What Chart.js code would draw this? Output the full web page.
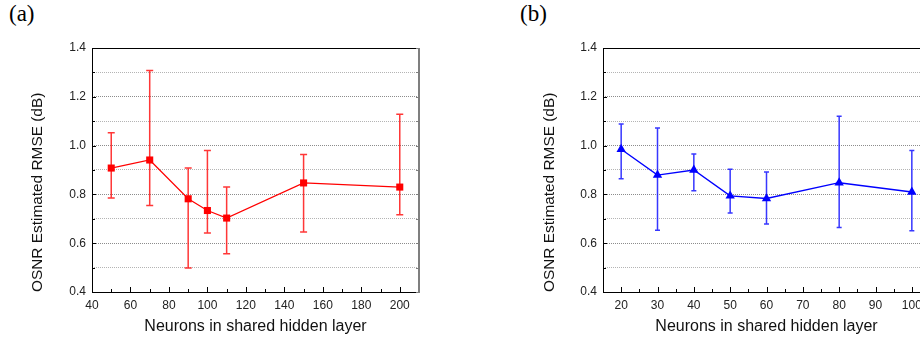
<!DOCTYPE html>
<html lang="en">

<head>
    <meta charset="UTF-8">
    <title>OSNR RMSE vs neurons</title>
    <script src="https://cdn.jsdelivr.net/npm/chart.js"></script>
    <style>
        * {
            margin: 0;
            padding: 0;
            box-sizing: border-box;
        }

        body {
            width: 920px;
            height: 338px;
            overflow: hidden;
            background: #fff;
            position: relative;
        }

        .panel {
            position: absolute;
            top: 0;
            height: 338px;
        }

        .tag {
            position: absolute;
            top: 2px;
            font-family: 'Liberation Serif', 'Times New Roman', serif;
            font-size: 23px;
            line-height: 1;
            color: #000;
        }
    </style>
</head>

<body>
    <div class="tag" style="left: 9px;">(a)</div>
    <div class="tag" style="left: 520px;">(b)</div>

    <div class="panel" style="left: 0; width: 460px;">
        <canvas id="chartA" width="460" height="338"></canvas>
    </div>
    <div class="panel" style="left: 460px; width: 560px;">
        <canvas id="chartB" width="560" height="338"></canvas>
    </div>

    <script>
        // panel (a)
        const neuronsA = [50, 70, 90, 100, 110, 150, 200];
        const rmseA = [0.908, 0.941, 0.782, 0.734, 0.703, 0.847, 0.830];
        const upperA = [1.053, 1.308, 0.908, 0.980, 0.830, 0.964, 1.128];
        const lowerA = [0.785, 0.754, 0.498, 0.642, 0.557, 0.646, 0.717];
        const xTicksA = [40, 60, 80, 100, 120, 140, 160, 180, 200];

        // panel (b)
        const neuronsB = [20, 30, 40, 50, 60, 80, 100];
        const rmseB = [0.985, 0.879, 0.900, 0.794, 0.783, 0.848, 0.810];
        const upperB = [1.089, 1.072, 0.966, 0.903, 0.892, 1.120, 0.980];
        const lowerB = [0.864, 0.653, 0.815, 0.724, 0.679, 0.664, 0.651];
        const xTicksB = [20, 30, 40, 50, 60, 70, 80, 90, 100];

        // shared y axis: grid every 0.1, labels every 0.2
        const yTicks = [0.4, 0.5, 0.6, 0.7, 0.8, 0.9, 1.0, 1.1, 1.2, 1.3, 1.4];

        const FONT = "'Liberation Sans', Arial, sans-serif";
        const isMajorY = v => Math.round(v * 10) % 2 === 0;

        // error bars, drawn under the markers
        const errorBars = {
            id: 'errorBars',
            beforeDatasetsDraw(chart) {
                const { ctx, scales: { x, y } } = chart;
                chart.data.datasets.forEach(ds => {
                    ctx.save();
                    ctx.strokeStyle = ds.errColor;
                    ctx.lineWidth = 1.5;
                    ds.data.forEach((p, i) => {
                        const px = x.getPixelForValue(p.x);
                        const yu = y.getPixelForValue(ds.errUpper[i]);
                        const yl = y.getPixelForValue(ds.errLower[i]);
                        const c = ds.capHalf;
                        ctx.beginPath();
                        ctx.moveTo(px, yu);
                        ctx.lineTo(px, yl);
                        ctx.moveTo(px - c, yu);
                        ctx.lineTo(px + c, yu);
                        ctx.moveTo(px - c, yl);
                        ctx.lineTo(px + c, yl);
                        ctx.stroke();
                    });
                    ctx.restore();
                });
            }
        };

        // frame with inward ticks, like the original plotting tool
        const frame = {
            id: 'frame',
            afterDatasetsDraw(chart) {
                const { ctx, chartArea: a, scales: { x, y } } = chart;
                ctx.save();
                ctx.lineWidth = 1;
                ctx.strokeStyle = '#000';
                ctx.beginPath();
                ctx.moveTo(a.left + 0.5, a.top + 0.5);
                ctx.lineTo(a.right, a.top + 0.5);
                ctx.moveTo(a.left + 0.5, a.top);
                ctx.lineTo(a.left + 0.5, a.bottom + 0.5);
                ctx.lineTo(a.right, a.bottom + 0.5);
                ctx.stroke();

                // ticks along the bottom
                const xt = x.ticks.map(t => t.value);
                ctx.beginPath();
                xt.forEach((v, i) => {
                    const px = Math.round(x.getPixelForValue(v)) + 0.5;
                    ctx.moveTo(px, a.bottom);
                    ctx.lineTo(px, a.bottom - 5);
                    if (i < xt.length - 1) {
                        const mx = Math.round(x.getPixelForValue((v + xt[i + 1]) / 2)) + 0.5;
                        ctx.moveTo(mx, a.bottom);
                        ctx.lineTo(mx, a.bottom - 3);
                    }
                });
                // ticks along the left
                yTicks.forEach(v => {
                    const py = Math.round(y.getPixelForValue(v)) + 0.5;
                    const len = isMajorY(v) ? 4 : 3;
                    ctx.moveTo(a.left, py);
                    ctx.lineTo(a.left + len, py);
                });
                ctx.stroke();

                // right side: grey bar
                ctx.strokeStyle = '#7f7f7f';
                ctx.lineWidth = 2;
                ctx.beginPath();
                ctx.moveTo(a.right, a.top);
                ctx.lineTo(a.right, a.bottom + 1);
                ctx.stroke();
                ctx.lineWidth = 1;
                ctx.beginPath();
                yTicks.forEach(v => {
                    const py = Math.round(y.getPixelForValue(v)) + 0.5;
                    ctx.moveTo(a.right, py);
                    ctx.lineTo(a.right - 3, py);
                });
                ctx.stroke();
                ctx.restore();
            }
        };

        function makeChart(id, xs, ys, up, lo, xTicks, xMin, xMax, look, pad, yWidth) {
            const ctx = document.getElementById(id).getContext('2d');
            return new Chart(ctx, {
                type: 'scatter',
                data: {
                    datasets: [{
                        data: xs.map((v, i) => ({ x: v, y: ys[i] })),
                        showLine: true,
                        borderColor: look.color,
                        borderWidth: look.lineWidth,
                        backgroundColor: look.color,
                        pointStyle: look.pointStyle,
                        pointRadius: look.radius,
                        pointHoverRadius: look.radius,
                        pointBorderColor: look.color,
                        pointBorderWidth: 0,
                        errUpper: up,
                        errLower: lo,
                        errColor: look.errColor,
                        capHalf: look.capHalf
                    }]
                },
                options: {
                    responsive: false,
                    animation: false,
                    devicePixelRatio: 1,
                    layout: { padding: pad },
                    plugins: {
                        legend: { display: false },
                        tooltip: { enabled: false }
                    },
                    scales: {
                        x: {
                            type: 'linear',
                            min: xMin,
                            max: xMax,
                            afterBuildTicks: s => { s.ticks = xTicks.map(v => ({ value: v })); },
                            afterFit: s => { s.height = 46; },
                            grid: { display: false },
                            border: { display: false },
                            ticks: {
                                autoSkip: false,
                                maxRotation: 0,
                                padding: -2,
                                color: '#222',
                                font: { family: FONT, size: 12 }
                            },
                            title: {
                                display: true,
                                text: 'Neurons in shared hidden layer',
                                color: '#111',
                                padding: { top: 0, bottom: 2 },
                                font: { family: FONT, size: 16 }
                            }
                        },
                        y: {
                            type: 'linear',
                            min: 0.4,
                            max: 1.4,
                            afterBuildTicks: s => { s.ticks = yTicks.map(v => ({ value: v })); },
                            afterFit: s => { s.width = yWidth; },
                            grid: {
                                drawTicks: false,
                                lineWidth: 1,
                                color: c => {
                                    const v = c.tick ? c.tick.value : 0;
                                    if (v <= 0.4 || v >= 1.4) return 'rgba(0,0,0,0)';
                                    return isMajorY(v) ? '#8c8c8c' : '#b4b4b4';
                                }
                            },
                            border: { display: false, dash: [1, 1] },
                            ticks: {
                                autoSkip: false,
                                padding: 6,
                                color: '#222',
                                font: { family: FONT, size: 12 },
                                callback: v => isMajorY(v) ? v.toFixed(1) : ''
                            },
                            title: {
                                display: true,
                                text: 'OSNR Estimated RMSE (dB)',
                                align: 'start',
                                color: '#111',
                                padding: { top: 4, bottom: 0 },
                                font: { family: FONT, size: 15.4 }
                            }
                        }
                    }
                },
                plugins: [errorBars, frame]
            });
        }

        const chartA = makeChart('chartA', neuronsA, rmseA, upperA, lowerA, xTicksA, 40, 210, {
            color: '#ff0000',
            errColor: 'rgba(255, 20, 20, 0.85)',
            lineWidth: 1.2,
            pointStyle: 'rect',
            radius: 5,
            capHalf: 3.5
        }, { left: 25, top: 48, right: 41, bottom: 0 }, 67);

        const chartB = makeChart('chartB', neuronsB, rmseB, upperB, lowerB, xTicksB, 15, 105, {
            color: '#0000ff',
            errColor: 'rgba(20, 20, 255, 0.85)',
            lineWidth: 1.4,
            pointStyle: 'triangle',
            radius: 5.4,
            capHalf: 2.5
        }, { left: 77, top: 48, right: 90, bottom: 0 }, 66);
    </script>
</body>

</html>
